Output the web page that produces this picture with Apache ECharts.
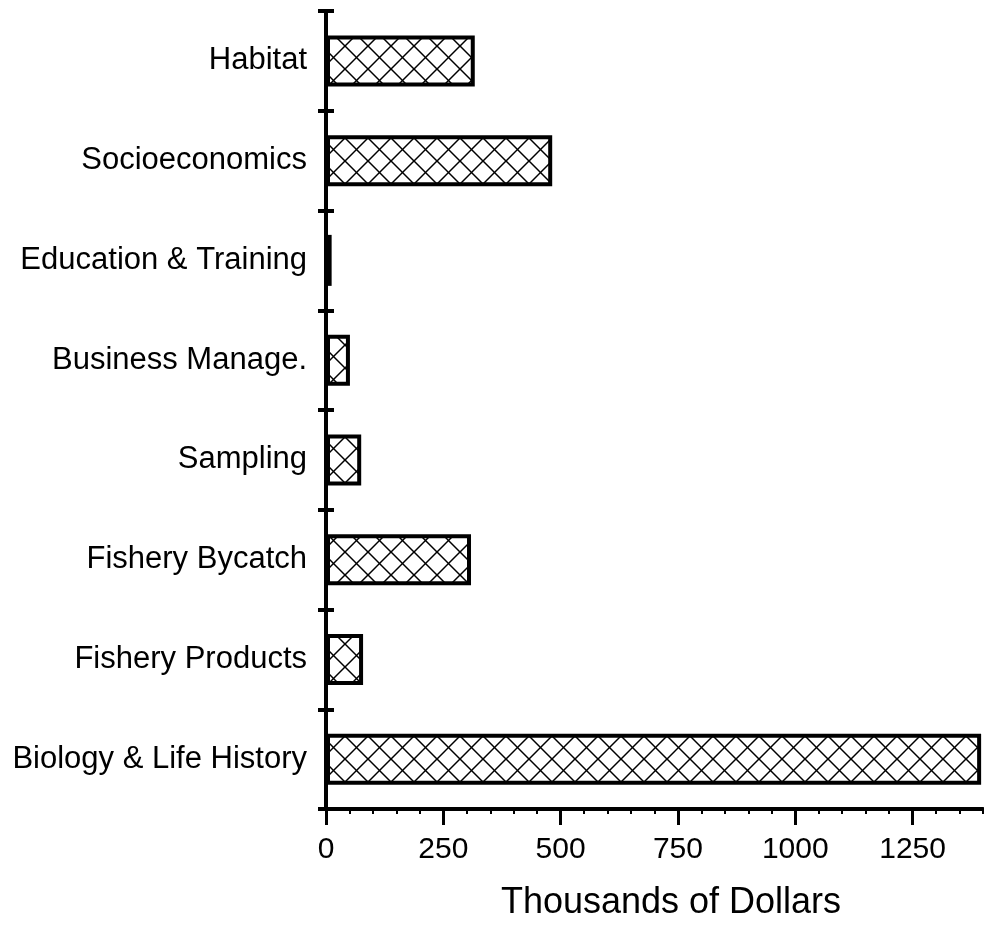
<!DOCTYPE html>
<html>
<head>
<meta charset="utf-8">
<script src="https://cdn.jsdelivr.net/npm/echarts@6/dist/echarts.min.js"></script>
<style>
html,body{margin:0;padding:0;background:#fff;}
#chart{width:984px;height:928px;}
</style>
</head>
<body>
<div id="chart"></div>
<script>
var categories = ['Biology & Life History','Fishery Products','Fishery Bycatch','Sampling','Business Manage.','Education & Training','Socioeconomics','Habitat'];
var values = [1396, 79, 309, 75, 51, 12, 482, 317];
var xTickLabels = [0, 250, 500, 750, 1000, 1250];
var axisTitle = 'Thousands of Dollars';

function hatch() {
  var s = 23;
  var c = document.createElement('canvas');
  c.width = s; c.height = s;
  var g = c.getContext('2d');
  g.fillStyle = '#fff';
  g.fillRect(0, 0, s, s);
  g.strokeStyle = '#000';
  g.lineWidth = 1.5;
  for (var dx = -s; dx <= s; dx += s) {
    g.beginPath(); g.moveTo(dx, 0); g.lineTo(dx + s, s); g.stroke();
    g.beginPath(); g.moveTo(dx + s, 0); g.lineTo(dx, s); g.stroke();
  }
  return c;
}

var font = 'Liberation Sans, Arial, sans-serif';
var chart = echarts.init(document.getElementById('chart'), null, {renderer: 'canvas'});
var gridRect = {left: 326, right: 1, top: 11, bottom: 119};
chart.setOption({
  animation: false,
  backgroundColor: '#fff',
  title: {
    text: axisTitle, left: 671, top: 885, textAlign: 'center', padding: 0,
    textStyle: {fontFamily: font, fontSize: 36, fontWeight: 'normal', color: '#000'}
  },
  grid: [
    Object.assign({}, gridRect),
    Object.assign({}, gridRect)
  ],
  xAxis: [
    {
      type: 'value', gridIndex: 0, min: 0, max: 1400, interval: 250,
      axisLine: {show: true, lineStyle: {color: '#000', width: 4}},
      axisTick: {show: true, length: 16, lineStyle: {color: '#000', width: 3}, customValues: xTickLabels},
      axisLabel: {show: true, customValues: xTickLabels, margin: 26, color: '#000', fontFamily: font, fontSize: 30,
        formatter: function (v) { return String(v); }},
      splitLine: {show: false}
    },
    {
      type: 'value', gridIndex: 1, min: 0, max: 1400, interval: 50,
      axisLine: {show: false},
      axisTick: {show: true, length: 5, lineStyle: {color: '#000', width: 2}},
      axisLabel: {show: false},
      splitLine: {show: false}
    }
  ],
  yAxis: [
    {
      type: 'category', gridIndex: 0, data: categories,
      axisLine: {show: true, lineStyle: {color: '#000', width: 4}},
      axisTick: {show: true, length: 8, lineStyle: {color: '#000', width: 4}},
      axisLabel: {margin: 19, color: '#000', fontFamily: font, fontSize: 31},
      splitLine: {show: false}
    },
    {
      type: 'category', gridIndex: 1, data: categories,
      axisLine: {show: false},
      axisTick: {show: true, inside: true, length: 8, lineStyle: {color: '#000', width: 4}},
      axisLabel: {show: false},
      splitLine: {show: false}
    }
  ],
  series: [{
    type: 'bar', xAxisIndex: 0, yAxisIndex: 0, data: values, barWidth: 51,
    itemStyle: {
      color: {image: hatch(), repeat: 'repeat'},
      borderColor: '#000', borderWidth: 4
    }
  }]
});
</script>
</body>
</html>
